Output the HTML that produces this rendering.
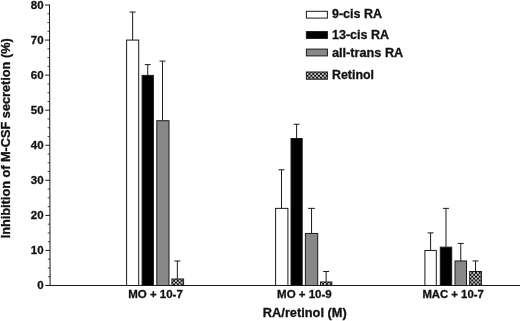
<!DOCTYPE html>
<html><head><meta charset="utf-8"><title>chart</title>
<style>
html,body{margin:0;padding:0;background:#fff;}
svg{display:block;}
text{font-family:"Liberation Sans",Arial,sans-serif;font-weight:bold;fill:#111;stroke:#111;stroke-width:0.3px;}
</style></head><body>
<svg width="520" height="321" viewBox="0 0 520 321">
<defs>
<pattern id="chkL" x="304.62" y="72.84" width="3.840" height="3.900" patternUnits="userSpaceOnUse">
<rect width="3.840" height="3.900" fill="#fff"/>
<rect x="-0.120" y="-0.120" width="2.160" height="2.190" fill="#111"/>
<rect x="1.800" y="1.830" width="2.160" height="2.190" fill="#111"/>
<rect x="-2.040" y="1.830" width="2.160" height="2.190" fill="#111"/>
<rect x="1.800" y="-2.070" width="2.160" height="2.190" fill="#111"/>
<rect x="3.720" y="-0.120" width="2.160" height="2.190" fill="#111"/>
<rect x="-0.120" y="3.780" width="2.160" height="2.190" fill="#111"/>
<rect x="3.720" y="3.780" width="2.160" height="2.190" fill="#111"/>
</pattern>
<pattern id="chk1" x="169.33" y="279.75" width="3.800" height="3.800" patternUnits="userSpaceOnUse">
<rect width="3.800" height="3.800" fill="#fff"/>
<rect x="-0.120" y="-0.120" width="2.140" height="2.140" fill="#111"/>
<rect x="1.780" y="1.780" width="2.140" height="2.140" fill="#111"/>
<rect x="-2.020" y="1.780" width="2.140" height="2.140" fill="#111"/>
<rect x="1.780" y="-2.020" width="2.140" height="2.140" fill="#111"/>
<rect x="3.680" y="-0.120" width="2.140" height="2.140" fill="#111"/>
<rect x="-0.120" y="3.680" width="2.140" height="2.140" fill="#111"/>
<rect x="3.680" y="3.680" width="2.140" height="2.140" fill="#111"/>
</pattern>
<pattern id="chk2" x="318.4" y="282.9" width="3.800" height="3.800" patternUnits="userSpaceOnUse">
<rect width="3.800" height="3.800" fill="#fff"/>
<rect x="-0.120" y="-0.120" width="2.140" height="2.140" fill="#111"/>
<rect x="1.780" y="1.780" width="2.140" height="2.140" fill="#111"/>
<rect x="-2.020" y="1.780" width="2.140" height="2.140" fill="#111"/>
<rect x="1.780" y="-2.020" width="2.140" height="2.140" fill="#111"/>
<rect x="3.680" y="-0.120" width="2.140" height="2.140" fill="#111"/>
<rect x="-0.120" y="3.680" width="2.140" height="2.140" fill="#111"/>
<rect x="3.680" y="3.680" width="2.140" height="2.140" fill="#111"/>
</pattern>
<pattern id="chk3" x="467.54" y="271.94" width="3.760" height="3.800" patternUnits="userSpaceOnUse">
<rect width="3.760" height="3.800" fill="#fff"/>
<rect x="-0.120" y="-0.120" width="2.120" height="2.140" fill="#111"/>
<rect x="1.760" y="1.780" width="2.120" height="2.140" fill="#111"/>
<rect x="-2.000" y="1.780" width="2.120" height="2.140" fill="#111"/>
<rect x="1.760" y="-2.020" width="2.120" height="2.140" fill="#111"/>
<rect x="3.640" y="-0.120" width="2.120" height="2.140" fill="#111"/>
<rect x="-0.120" y="3.680" width="2.120" height="2.140" fill="#111"/>
<rect x="3.640" y="3.680" width="2.120" height="2.140" fill="#111"/>
</pattern>
</defs>
<rect width="520" height="321" fill="#fff"/>

<g stroke="#1a1a1a" stroke-width="1" fill="none">
<line x1="49.5" y1="4.5" x2="50.1" y2="286.0"/>
<line x1="45.6" y1="285.5" x2="520" y2="285.5"/>
<line x1="45.60" y1="285.5" x2="50.1" y2="285.5"/>
<line x1="47.88" y1="276.74" x2="50.08" y2="276.74" stroke-width="0.8"/>
<line x1="47.86" y1="267.97" x2="50.06" y2="267.97" stroke-width="0.8"/>
<line x1="47.84" y1="259.2" x2="50.04" y2="259.2" stroke-width="0.8"/>
<line x1="45.53" y1="250.44" x2="50.03" y2="250.44"/>
<line x1="47.81" y1="241.68" x2="50.01" y2="241.68" stroke-width="0.8"/>
<line x1="47.79" y1="232.91" x2="49.99" y2="232.91" stroke-width="0.8"/>
<line x1="47.77" y1="224.15" x2="49.97" y2="224.15" stroke-width="0.8"/>
<line x1="45.45" y1="215.38" x2="49.95" y2="215.38"/>
<line x1="47.73" y1="206.62" x2="49.93" y2="206.62" stroke-width="0.8"/>
<line x1="47.71" y1="197.85" x2="49.91" y2="197.85" stroke-width="0.8"/>
<line x1="47.69" y1="189.09" x2="49.89" y2="189.09" stroke-width="0.8"/>
<line x1="45.38" y1="180.32" x2="49.88" y2="180.32"/>
<line x1="47.66" y1="171.56" x2="49.86" y2="171.56" stroke-width="0.8"/>
<line x1="47.64" y1="162.79" x2="49.84" y2="162.79" stroke-width="0.8"/>
<line x1="47.62" y1="154.03" x2="49.82" y2="154.03" stroke-width="0.8"/>
<line x1="45.30" y1="145.26" x2="49.8" y2="145.26"/>
<line x1="47.58" y1="136.5" x2="49.78" y2="136.5" stroke-width="0.8"/>
<line x1="47.56" y1="127.73" x2="49.76" y2="127.73" stroke-width="0.8"/>
<line x1="47.54" y1="118.97" x2="49.74" y2="118.97" stroke-width="0.8"/>
<line x1="45.23" y1="110.2" x2="49.73" y2="110.2"/>
<line x1="47.51" y1="101.44" x2="49.71" y2="101.44" stroke-width="0.8"/>
<line x1="47.49" y1="92.67" x2="49.69" y2="92.67" stroke-width="0.8"/>
<line x1="47.47" y1="83.91" x2="49.67" y2="83.91" stroke-width="0.8"/>
<line x1="45.15" y1="75.14" x2="49.65" y2="75.14"/>
<line x1="47.43" y1="66.38" x2="49.63" y2="66.38" stroke-width="0.8"/>
<line x1="47.41" y1="57.61" x2="49.61" y2="57.61" stroke-width="0.8"/>
<line x1="47.39" y1="48.85" x2="49.59" y2="48.85" stroke-width="0.8"/>
<line x1="45.08" y1="40.08" x2="49.58" y2="40.08"/>
<line x1="47.36" y1="31.32" x2="49.56" y2="31.32" stroke-width="0.8"/>
<line x1="47.34" y1="22.55" x2="49.54" y2="22.55" stroke-width="0.8"/>
<line x1="47.32" y1="13.79" x2="49.52" y2="13.79" stroke-width="0.8"/>
<line x1="45.00" y1="5.02" x2="49.5" y2="5.02"/>
</g>
<text x="43.6" y="289.40" font-size="11.5" text-anchor="end">0</text>
<text x="43.6" y="254.34" font-size="11.5" text-anchor="end">10</text>
<text x="43.6" y="219.28" font-size="11.5" text-anchor="end">20</text>
<text x="43.6" y="184.22" font-size="11.5" text-anchor="end">30</text>
<text x="43.6" y="149.16" font-size="11.5" text-anchor="end">40</text>
<text x="43.6" y="114.10" font-size="11.5" text-anchor="end">50</text>
<text x="43.6" y="79.04" font-size="11.5" text-anchor="end">60</text>
<text x="43.6" y="43.98" font-size="11.5" text-anchor="end">70</text>
<text x="43.6" y="8.92" font-size="11.5" text-anchor="end">80</text>
<g stroke="#1a1a1a" stroke-width="1">
<line x1="132.65" y1="12.03" x2="132.65" y2="40.08"/>
<line x1="129.65" y1="12.03" x2="135.65" y2="12.03"/>
<rect x="126.60" y="40.08" width="12.10" height="245.42" fill="#fff"/>
</g>
<g stroke="#1a1a1a" stroke-width="1">
<line x1="147.75" y1="64.62" x2="147.75" y2="75.39"/>
<line x1="144.75" y1="64.62" x2="150.75" y2="64.62"/>
<rect x="142.10" y="75.39" width="11.30" height="210.11" fill="#000"/>
</g>
<g stroke="#1a1a1a" stroke-width="1">
<line x1="162.5" y1="61.12" x2="162.5" y2="120.72"/>
<line x1="159.50" y1="61.12" x2="165.50" y2="61.12"/>
<rect x="156.80" y="120.72" width="12.20" height="164.78" fill="#888"/>
</g>
<g stroke="#1a1a1a" stroke-width="1">
<line x1="177.35" y1="260.96" x2="177.35" y2="279.01"/>
<line x1="174.35" y1="260.96" x2="180.35" y2="260.96"/>
<rect x="171.90" y="279.01" width="11.70" height="6.49" fill="url(#chk1)"/>
</g>
<g stroke="#1a1a1a" stroke-width="1">
<line x1="281.5" y1="169.8" x2="281.5" y2="208.37"/>
<line x1="278.50" y1="169.8" x2="284.50" y2="169.8"/>
<rect x="275.60" y="208.37" width="12.30" height="77.13" fill="#fff"/>
</g>
<g stroke="#1a1a1a" stroke-width="1">
<line x1="296.6" y1="124.22" x2="296.6" y2="138.5"/>
<line x1="293.60" y1="124.22" x2="299.60" y2="124.22"/>
<rect x="291.00" y="138.50" width="11.20" height="147.00" fill="#000"/>
</g>
<g stroke="#1a1a1a" stroke-width="1">
<line x1="311.55" y1="208.37" x2="311.55" y2="233.44"/>
<line x1="308.15" y1="208.37" x2="314.95" y2="208.37"/>
<rect x="305.40" y="233.44" width="12.30" height="52.06" fill="#888"/>
</g>
<g stroke="#1a1a1a" stroke-width="1">
<line x1="326.15" y1="271.48" x2="326.15" y2="281.99"/>
<line x1="323.15" y1="271.48" x2="329.15" y2="271.48"/>
<rect x="320.50" y="281.99" width="11.30" height="3.51" fill="url(#chk2)"/>
</g>
<g stroke="#1a1a1a" stroke-width="1">
<line x1="430.6" y1="232.91" x2="430.6" y2="250.44"/>
<line x1="427.60" y1="232.91" x2="433.60" y2="232.91"/>
<rect x="424.90" y="250.44" width="11.40" height="35.06" fill="#fff"/>
</g>
<g stroke="#1a1a1a" stroke-width="1">
<line x1="446.0" y1="208.37" x2="446.0" y2="247.18"/>
<line x1="443.00" y1="208.37" x2="449.00" y2="208.37"/>
<rect x="440.30" y="247.18" width="11.40" height="38.32" fill="#000"/>
</g>
<g stroke="#1a1a1a" stroke-width="1">
<line x1="460.75" y1="243.43" x2="460.75" y2="260.96"/>
<line x1="457.75" y1="243.43" x2="463.75" y2="243.43"/>
<rect x="455.00" y="260.96" width="11.50" height="24.54" fill="#888"/>
</g>
<g stroke="#1a1a1a" stroke-width="1">
<line x1="475.55" y1="260.96" x2="475.55" y2="271.48"/>
<line x1="472.55" y1="260.96" x2="478.55" y2="260.96"/>
<rect x="469.70" y="271.48" width="11.70" height="14.02" fill="url(#chk3)"/>
</g>
<text x="155.5" y="298.2" font-size="11.5" text-anchor="middle">MO + 10-7</text>
<text x="304.4" y="298.2" font-size="11.5" text-anchor="middle">MO + 10-9</text>
<text x="453.1" y="298.2" font-size="11.5" text-anchor="middle" textLength="61.4" lengthAdjust="spacingAndGlyphs">MAC + 10-7</text>
<text x="304.8" y="317.3" font-size="12.8" text-anchor="middle">RA/retinol (M)</text>
<text transform="translate(10.3,138.3) rotate(-90)" font-size="12.72" text-anchor="middle">Inhibition of M-CSF secretion (%)</text>
<rect x="306.4" y="11.3" width="21" height="6.8" fill="#fff" stroke="#1a1a1a" stroke-width="1"/>
<text x="332" y="18.40" font-size="12.5">9-cis RA</text>
<rect x="306.4" y="31.6" width="21" height="6.8" fill="#000" stroke="#1a1a1a" stroke-width="1"/>
<text x="332" y="38.90" font-size="12.5">13-cis RA</text>
<rect x="306.4" y="49.1" width="21" height="6.8" fill="#888" stroke="#1a1a1a" stroke-width="1"/>
<text x="332" y="56.50" font-size="12.7">all-trans RA</text>
<rect x="306.4" y="72.0" width="21" height="7.2" fill="url(#chkL)" stroke="#1a1a1a" stroke-width="1"/>
<text x="332" y="79.30" font-size="12.4">Retinol</text>
</svg></body></html>
